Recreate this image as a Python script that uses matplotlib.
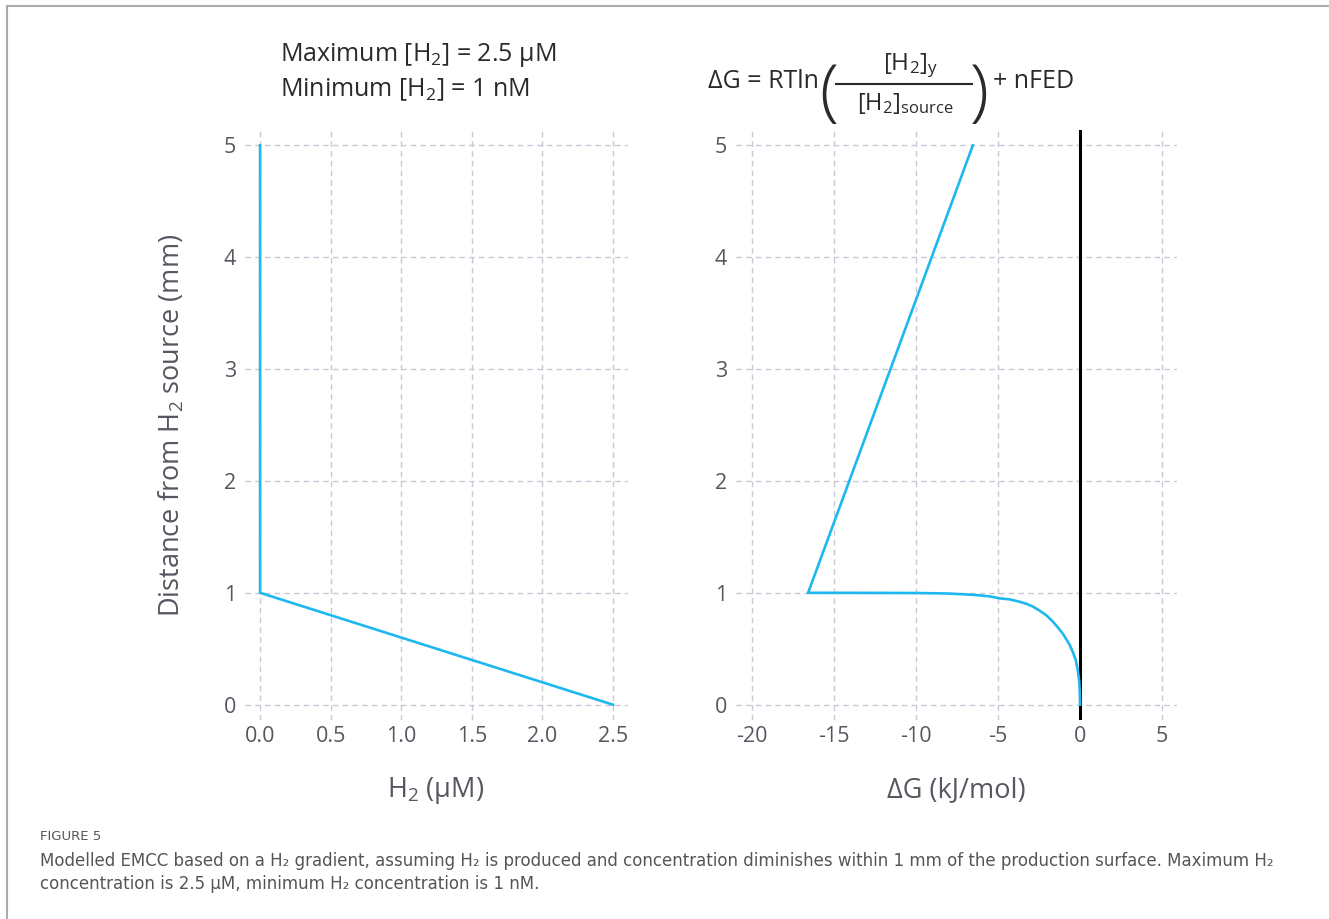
import matplotlib
matplotlib.use("Agg")
import matplotlib.pyplot as plt
from matplotlib.lines import Line2D

# data
h2_conc = [0.0, 0.0, 2.5]          # uM
h2_dist = [5.0, 1.0, 0.0]          # mm

dg_vals = [-6.53, -16.56, -12.0, -10.0, -8.1, -6.5, -5.5, -4.87, -4.27, -3.66,
           -3.25, -2.85, -2.45, -2.04, -1.64, -1.33, -1.03, -0.83, -0.62,
           -0.42, -0.26, -0.14, -0.06, -0.02, 0.0]   # kJ/mol
dg_dist = [5.0, 1.0, 0.999, 0.998, 0.994, 0.982, 0.968, 0.950, 0.941, 0.919,
           0.901, 0.875, 0.839, 0.797, 0.740, 0.686, 0.630, 0.582, 0.531,
           0.463, 0.397, 0.307, 0.218, 0.128, 0.0]  # mm

y_ticks = [0, 1, 2, 3, 4, 5]
h2_ticks = [0.0, 0.5, 1.0, 1.5, 2.0, 2.5]
dg_ticks = [-20, -15, -10, -5, 0, 5]

FONT = "Open Sans"
BLUE = "#1DB8F0"
GRID = "#C9C8D9"
TICK = "#5A5560"
TEXT = "#2A2A2A"

plt.rcParams["font.family"] = [FONT, "DejaVu Sans"]
plt.rcParams["mathtext.fontset"] = "custom"
plt.rcParams["mathtext.rm"] = FONT
plt.rcParams["mathtext.it"] = FONT + ":italic"
plt.rcParams["mathtext.bf"] = FONT + ":bold"

W, H = 1329, 919
fig = plt.figure(figsize=(W / 100, H / 100), dpi=100)


def px_axes(left, top, right, bottom):
    return fig.add_axes([left / W, 1 - bottom / H, (right - left) / W, (bottom - top) / H])


def ftext(x, y, s, **kw):
    return fig.text(x / W, 1 - y / H, s, **kw)


def style(ax, xticks):
    ax.set_xticks(xticks)
    ax.set_yticks(y_ticks)
    ax.set_ylim(-0.137, 5.137)
    for sp in ax.spines.values():
        sp.set_visible(False)
    ax.grid(True, color=GRID, linestyle=(0, (4, 3)), linewidth=1.0)
    ax.set_axisbelow(True)
    ax.tick_params(length=0, labelsize=15.5, colors=TICK)
    ax.tick_params(axis="y", pad=6.5)
    ax.tick_params(axis="x", pad=4)


ax1 = px_axes(245, 130, 628, 720)
ax1.plot(h2_conc, h2_dist, color=BLUE, lw=1.9, solid_joinstyle="miter")
style(ax1, h2_ticks)
ax1.set_xlim(-0.107, 2.607)
ax1.set_xticklabels([f"{v:.1f}" for v in h2_ticks])
ax1.set_yticklabels([str(v) for v in y_ticks])

ax2 = px_axes(736, 130, 1177, 720)
ax2.axvline(0, color="black", lw=2.2, zorder=2)
ax2.plot(dg_vals, dg_dist, color=BLUE, lw=1.9, zorder=3, solid_joinstyle="miter")
style(ax2, dg_ticks)
ax2.set_xlim(-20.95, 5.9)
ax2.set_xticklabels([str(v) for v in dg_ticks])
ax2.set_yticklabels([str(v) for v in y_ticks])

# axis titles
ftext(436, 790, r"H$_2$ (μM)", fontsize=19.5, color=TICK, ha="center", va="center")
ftext(956, 790, "ΔG (kJ/mol)", fontsize=19.5, color=TICK, ha="center", va="center")
ftext(172, 425, r"Distance from H$_2$ source (mm)", fontsize=19.5, color=TICK,
      ha="center", va="center", rotation=90)

# annotations above the panels
ftext(280, 55, r"Maximum [H$_2$] = 2.5 μM", fontsize=18, color=TEXT, va="center")
ftext(280, 90, r"Minimum [H$_2$] = 1 nM", fontsize=18, color=TEXT, va="center")

ftext(708, 82, "ΔG = RTln", fontsize=18, color=TEXT, va="center")
ftext(829, 95, "(", fontsize=50, fontweight="light", color=TEXT, ha="center", va="center")
ftext(911, 66, r"[H$_2$]$_\mathrm{y}$", fontsize=17.5, color=TEXT, ha="center", va="center")
fig.add_artist(Line2D([836 / W, 972 / W], [1 - 84 / H, 1 - 84 / H], color=TEXT, lw=1.5))
ftext(905, 104, r"[H$_2$]$_\mathrm{source}$", fontsize=17, color=TEXT, ha="center", va="center")
ftext(979, 95, ")", fontsize=50, fontweight="light", color=TEXT, ha="center", va="center")
ftext(993, 82, "+ nFED", fontsize=18, color=TEXT, va="center")

# page frame lines
fig.add_artist(Line2D([7 / W, 1], [1 - 6 / H, 1 - 6 / H], color="#ABABAB", lw=1.5))
fig.add_artist(Line2D([7 / W, 7 / W], [0, 1 - 6 / H], color="#ABABAB", lw=1.5))

# caption
CAP = ["Liberation Sans Narrow", "DejaVu Sans"]
ftext(40, 837, "FIGURE 5", fontsize=9.5, color="#555555", family=CAP, va="center")
ftext(40, 861, "Modelled EMCC based on a H₂ gradient, assuming H₂ is produced and concentration "
      "diminishes within 1 mm of the production surface. Maximum H₂",
      fontsize=12, color="#555555", family=CAP, va="center")
ftext(40, 884, "concentration is 2.5 μM, minimum H₂ concentration is 1 nM.",
      fontsize=12, color="#555555", family=CAP, va="center")

fig.savefig("out.png", dpi=100)
